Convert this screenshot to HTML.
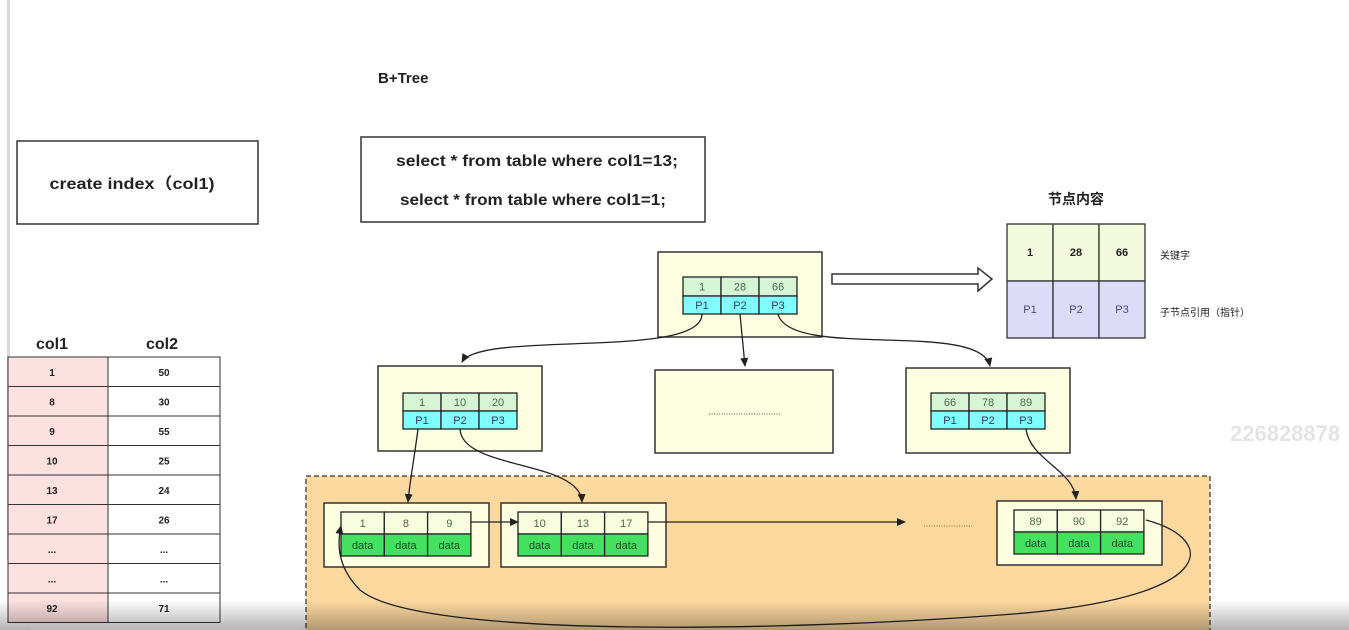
<!DOCTYPE html>
<html><head><meta charset="utf-8">
<style>
html,body{margin:0;padding:0;background:#fff;}
svg{display:block;font-family:"Liberation Sans","Noto Sans CJK SC",sans-serif;}
</style></head>
<body>
<svg id="s" width="1349" height="630" viewBox="0 0 1349 630" xmlns="http://www.w3.org/2000/svg">
<defs>
<marker id="ah" markerWidth="10" markerHeight="10" refX="8" refY="5" orient="auto" markerUnits="userSpaceOnUse"><path d="M0,1 L9,5 L0,9 Z" fill="#222"/></marker>
<linearGradient id="bot" x1="0" y1="0" x2="0" y2="1"><stop offset="0" stop-color="#000" stop-opacity="0"/><stop offset="1" stop-color="#000" stop-opacity="0.3"/></linearGradient>
</defs>
<rect x="7" y="0" width="3" height="560" fill="#d8d8d8"/>
<text x="378" y="83" font-size="15" font-weight="bold" fill="#222">B+Tree</text>
<g>
<rect x="17" y="141" width="241" height="83" fill="#fff" stroke="#333" stroke-width="1.5"/>
<text x="132" y="189" font-size="16" font-weight="bold" text-anchor="middle" fill="#222" textLength="165" lengthAdjust="spacingAndGlyphs">create  index（col1)</text>
</g>
<g>
<rect x="361" y="137" width="344" height="85" fill="#fff" stroke="#333" stroke-width="1.5"/>
<text x="537" y="166" font-size="16" font-weight="bold" text-anchor="middle" fill="#222" textLength="282" lengthAdjust="spacingAndGlyphs">select  * from table  where col1=13;</text>
<text x="533" y="205" font-size="16" font-weight="bold" text-anchor="middle" fill="#222" textLength="266" lengthAdjust="spacingAndGlyphs">select  * from table  where col1=1;</text>
</g>
<text x="1076" y="204" font-size="14" font-weight="bold" text-anchor="middle" fill="#222">节点内容</text>
<g id="legend"></g>
<text x="1160" y="259" font-size="10" fill="#222">关键字</text>
<text x="1160" y="316" font-size="10" fill="#222">子节点引用（指针）</text>
<path d="M832,274 L978,274 L978,268 L992,279 L978,291 L978,284 L832,284 Z" fill="#fff" stroke="#333" stroke-width="1.5"/>
<rect x="306" y="476" width="904" height="160" fill="#fdd9a0" stroke="#333" stroke-dasharray="5,3" stroke-width="1.2"/>
<g id="nodes"></g>
<g id="links" fill="none" stroke="#222" stroke-width="1.3"></g>
<g>
<rect x="655" y="370" width="178" height="83" fill="#fefee0" stroke="#333" stroke-width="1.5"/>
<line x1="709" y1="414" x2="781" y2="414" stroke="#555" stroke-dasharray="1,1.5"/>
</g>
<line x1="924" y1="526" x2="972" y2="526" stroke="#a06040" stroke-dasharray="1,1.5"/>
<g id="table"></g>
<text x="1230" y="441" font-size="22" font-weight="bold" fill="#e4e4e4">226828878</text>
<rect x="0" y="600" width="1349" height="30" fill="url(#bot)"/>
<rect x="30" y="626" width="270" height="4" fill="#bbb"/>
</svg>
<script>
const NS="http://www.w3.org/2000/svg";
const rootKeys=["1","28","66"];
const leftKeys=["1","10","20"];
const rightKeys=["66","78","89"];
const ptrs=["P1","P2","P3"];
const leaf1=["1","8","9"];
const leaf2=["10","13","17"];
const leaf3=["89","90","92"];
const col1=["1","8","9","10","13","17","...","...","92"];
const col2=["50","30","55","25","24","26","...","...","71"];
function el(t,a,p){const e=document.createElementNS(NS,t);for(const k in a)e.setAttribute(k,a[k]);(p||document.getElementById('s')).appendChild(e);return e;}
function txt(p,x,y,s,sz,c,w){const t=el('text',{x:x,y:y,'font-size':sz,'text-anchor':'middle',fill:c,'font-weight':w||'normal'},p);t.textContent=s;return t;}
const nodes=document.getElementById('nodes');
function inner(name,x,y,keys,bottom,kc,bc,cw,h1,h2,btc){
  const g=el('g',{},nodes);
  
  
  keys.forEach((k,i)=>{
    el('rect',{x:x+i*cw,y:y,width:cw,height:h1,fill:kc,stroke:'#222','stroke-width':1.3},g);
    txt(g,x+i*cw+cw/2,y+h1/2+4,k,11,'#4a6a4a');
    el('rect',{x:x+i*cw,y:y+h1,width:cw,height:h2,fill:bc,stroke:'#222','stroke-width':1.3},g);
    txt(g,x+i*cw+cw/2,y+h1+h2/2+4,bottom[i],11,btc||'#2a3a6a');
  });
}
function box(name,x,y,w,h){const r=el('rect',{x:x,y:y,width:w,height:h,fill:'#fefee0',stroke:'#333','stroke-width':1.5},nodes);}
box('root-node',658,252,164,85);
inner('root-cells',683,277,rootKeys,ptrs,'#d5f5d5','#80ffff',38,19,18);
box('left-internal-node',378,366,164,85);
inner('left-internal-cells',403,393,leftKeys,ptrs,'#d5f5d5','#80ffff',38,18,18);
box('right-internal-node',906,368,164,85);
inner('right-internal-cells',931,393,rightKeys,ptrs,'#d5f5d5','#80ffff',38,18,18);
const dd=["data","data","data"];
box('leaf-node-1',324,503,165,64);
inner('leaf-1-cells',341,512,leaf1,dd,'#f8fde0','#44e060',43.3,22,22,'#1a4a2a');
box('leaf-node-2',501,503,165,64);
inner('leaf-2-cells',518,512,leaf2,dd,'#f8fde0','#44e060',43.3,22,22,'#1a4a2a');
box('leaf-node-3',997,501,165,64);
inner('leaf-3-cells',1014,510,leaf3,dd,'#f8fde0','#44e060',43.3,22,22,'#1a4a2a');
const lg=document.getElementById('legend');
rootKeys.forEach((k,i)=>{
  el('rect',{x:1007+i*46,y:224,width:46,height:57,fill:'#f3f9dc',stroke:'#333','stroke-width':1.3},lg);
  txt(lg,1030+i*46,256,k,11,'#222','bold');
  el('rect',{x:1007+i*46,y:281,width:46,height:57,fill:'#dcdcf8',stroke:'#333','stroke-width':1.3},lg);
  txt(lg,1030+i*46,313,ptrs[i],11,'#4a4a8a');
});
const L=document.getElementById('links');
const paths=[
 ['root-p1-link','M702,314 C702,360 480,330 462,362'],
 ['root-p2-link','M740,314 L745,366'],
 ['root-p3-link','M778,314 C790,360 980,320 990,366'],
 ['left-p1-link','M418,429 C414,460 410,480 408,502'],
 ['left-p2-link','M460,429 C462,470 580,460 582,502'],
 ['right-p3-link','M1026,429 C1030,460 1074,470 1076,499'],
 ['leaf1-next','M471,522 L518,522'],
 ['leaf2-next','M648,522 L905,522'],
 ['leaf-loop','M1146,520 C1220,540 1220,600 1000,615 C800,630 420,640 360,590 C335,565 338,540 341,526']
];
paths.forEach(p=>{const e=el('path',{d:p[1],'marker-end':'url(#ah)'},L);});
const T=document.getElementById('table');
txt(T,52,349,'col1',16,'#222','bold');
txt(T,162,349,'col2',16,'#222','bold');
col1.forEach((v,i)=>{
  const y=357+i*29.5;
  const r1=el('rect',{x:8,y:y,width:100,height:29.5,fill:'#fde0e0',stroke:'#333','stroke-width':1},T);
  
  
  txt(T,52,y+19,v,10,'#222','bold');
  const r2=el('rect',{x:108,y:y,width:112,height:29.5,fill:'#fff',stroke:'#333','stroke-width':1},T);
  
  
  txt(T,164,y+19,col2[i],10,'#222','bold');
});
</script>
</body></html>
